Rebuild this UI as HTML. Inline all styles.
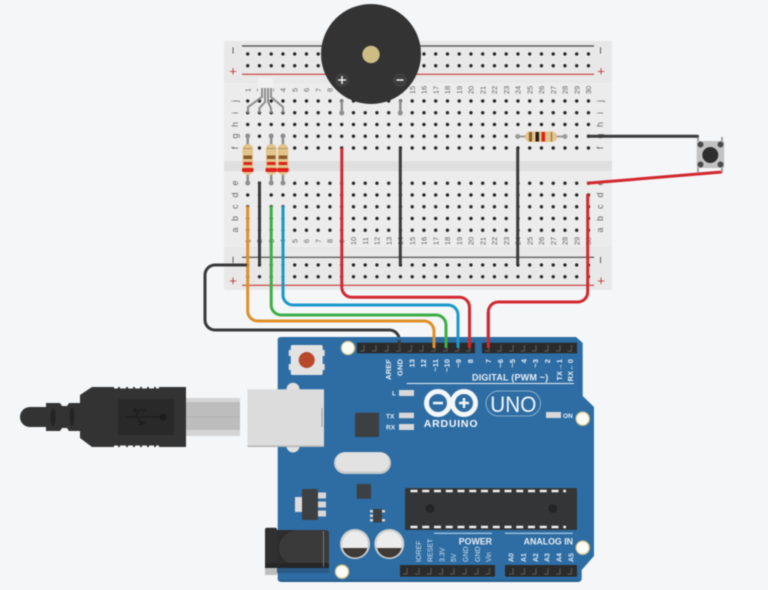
<!DOCTYPE html>
<html>
<head>
<meta charset="utf-8">
<style>
html,body{margin:0;padding:0;background:#f4f6f8;width:768px;height:590px;overflow:hidden}
svg{display:block;filter:blur(.5px)}
text{font-family:"Liberation Sans",sans-serif}
.n text{font-size:7.5px;fill:#666;text-anchor:middle}
.l text{font-size:9px;fill:#666;text-anchor:middle}
.w{fill:none;stroke-width:3;stroke-linecap:butt;stroke-linejoin:round}
.p text{font-size:7.5px;fill:#e8eef4;text-anchor:end;font-weight:bold;letter-spacing:.1px}
.q text{font-size:7px;fill:#d5e2ee;text-anchor:start}
.leg{stroke:#8e8e8e;stroke-width:2;fill:none}
</style>
</head>
<body>
<svg width="768" height="590" viewBox="0 0 768 590" xmlns="http://www.w3.org/2000/svg">
<defs>
<pattern id="h" patternUnits="userSpaceOnUse" x="241.825" y="95.125" width="11.75" height="11.75">
<circle cx="5.875" cy="5.875" r="2.600" fill="#f0f0f0"/>
<circle cx="5.875" cy="5.875" r="1.700" fill="#222"/>
</pattern>
</defs>
<rect width="768" height="590" fill="#f4f6f8"/>

<!-- breadboard -->
<rect x="224" y="41" width="388" height="249" rx="2" fill="#e8e8e8"/>
<rect x="224" y="83" width="388" height="164" fill="#ececec"/>
<rect x="224" y="161" width="388" height="10" fill="#dfdfdf"/>
<rect x="241.825" y="48.125" width="352.5" height="23.5" fill="url(#h)"/>
<rect x="241.825" y="95.125" width="352.5" height="58.75" fill="url(#h)"/>
<rect x="241.825" y="177.375" width="352.5" height="58.75" fill="url(#h)"/>
<g transform="translate(0,-.5)"><rect x="241.825" y="259.625" width="352.5" height="23.5" fill="url(#h)"/></g>
<path d="M242 46H594M242 257.3H594" stroke="#444" stroke-width="1.2"/>
<path d="M242 74.3H594M242 285.3H594" stroke="#c23a3a" stroke-width="1.2"/>
<g text-anchor="middle" font-family="Liberation Sans">
<text transform="translate(237.500,50.500) rotate(-90)" fill="#555" font-size="13">−</text>
<text transform="translate(605.200,50.500) rotate(-90)" fill="#555" font-size="13">−</text>
<text x="233" y="75.500" fill="#c23a3a" font-size="13">+</text>
<text x="601" y="75.500" fill="#c23a3a" font-size="13">+</text>
<text transform="translate(237.500,260) rotate(-90)" fill="#555" font-size="13">−</text>
<text transform="translate(605.200,260) rotate(-90)" fill="#555" font-size="13">−</text>
<text x="233" y="285" fill="#c23a3a" font-size="13">+</text>
<text x="601" y="285" fill="#c23a3a" font-size="13">+</text>
</g>
<g class="n">
<text transform="translate(250.5,90) rotate(-90)">1</text><text transform="translate(262.2,90) rotate(-90)">2</text><text transform="translate(274,90) rotate(-90)">3</text><text transform="translate(285.7,90) rotate(-90)">4</text><text transform="translate(297.5,90) rotate(-90)">5</text><text transform="translate(309.2,90) rotate(-90)">6</text><text transform="translate(321,90) rotate(-90)">7</text><text transform="translate(332.7,90) rotate(-90)">8</text><text transform="translate(344.5,90) rotate(-90)">9</text><text transform="translate(356.2,90) rotate(-90)">10</text><text transform="translate(368,90) rotate(-90)">11</text><text transform="translate(379.7,90) rotate(-90)">12</text><text transform="translate(391.5,90) rotate(-90)">13</text><text transform="translate(403.2,90) rotate(-90)">14</text><text transform="translate(415,90) rotate(-90)">15</text><text transform="translate(426.7,90) rotate(-90)">16</text><text transform="translate(438.5,90) rotate(-90)">17</text><text transform="translate(450.2,90) rotate(-90)">18</text><text transform="translate(462,90) rotate(-90)">19</text><text transform="translate(473.7,90) rotate(-90)">20</text><text transform="translate(485.5,90) rotate(-90)">21</text><text transform="translate(497.2,90) rotate(-90)">22</text><text transform="translate(509,90) rotate(-90)">23</text><text transform="translate(520.7,90) rotate(-90)">24</text><text transform="translate(532.5,90) rotate(-90)">25</text><text transform="translate(544.2,90) rotate(-90)">26</text><text transform="translate(556,90) rotate(-90)">27</text><text transform="translate(567.7,90) rotate(-90)">28</text><text transform="translate(579.5,90) rotate(-90)">29</text><text transform="translate(591.2,90) rotate(-90)">30</text>
<text transform="translate(250.5,241) rotate(-90)">1</text><text transform="translate(262.2,241) rotate(-90)">2</text><text transform="translate(274,241) rotate(-90)">3</text><text transform="translate(285.7,241) rotate(-90)">4</text><text transform="translate(297.5,241) rotate(-90)">5</text><text transform="translate(309.2,241) rotate(-90)">6</text><text transform="translate(321,241) rotate(-90)">7</text><text transform="translate(332.7,241) rotate(-90)">8</text><text transform="translate(344.5,241) rotate(-90)">9</text><text transform="translate(356.2,241) rotate(-90)">10</text><text transform="translate(368,241) rotate(-90)">11</text><text transform="translate(379.7,241) rotate(-90)">12</text><text transform="translate(391.5,241) rotate(-90)">13</text><text transform="translate(403.2,241) rotate(-90)">14</text><text transform="translate(415,241) rotate(-90)">15</text><text transform="translate(426.7,241) rotate(-90)">16</text><text transform="translate(438.5,241) rotate(-90)">17</text><text transform="translate(450.2,241) rotate(-90)">18</text><text transform="translate(462,241) rotate(-90)">19</text><text transform="translate(473.7,241) rotate(-90)">20</text><text transform="translate(485.5,241) rotate(-90)">21</text><text transform="translate(497.2,241) rotate(-90)">22</text><text transform="translate(509,241) rotate(-90)">23</text><text transform="translate(520.7,241) rotate(-90)">24</text><text transform="translate(532.5,241) rotate(-90)">25</text><text transform="translate(544.2,241) rotate(-90)">26</text><text transform="translate(556,241) rotate(-90)">27</text><text transform="translate(567.7,241) rotate(-90)">28</text><text transform="translate(579.5,241) rotate(-90)">29</text><text transform="translate(591.2,241) rotate(-90)">30</text>
</g>
<g class="l">
<text transform="translate(238,101) rotate(-90)">j</text><text transform="translate(238,113) rotate(-90)">i</text><text transform="translate(238,124.5) rotate(-90)">h</text><text transform="translate(238,136) rotate(-90)">g</text><text transform="translate(238,148) rotate(-90)">f</text><text transform="translate(238,183) rotate(-90)">e</text><text transform="translate(238,195) rotate(-90)">d</text><text transform="translate(238,206.7) rotate(-90)">c</text><text transform="translate(238,218.5) rotate(-90)">b</text><text transform="translate(238,230) rotate(-90)">a</text>
<text transform="translate(603,101) rotate(-90)">j</text><text transform="translate(603,113) rotate(-90)">i</text><text transform="translate(603,124.5) rotate(-90)">h</text><text transform="translate(603,136) rotate(-90)">g</text><text transform="translate(603,148) rotate(-90)">f</text><text transform="translate(603,183) rotate(-90)">e</text><text transform="translate(603,195) rotate(-90)">d</text><text transform="translate(603,206.7) rotate(-90)">c</text><text transform="translate(603,218.5) rotate(-90)">b</text><text transform="translate(603,230) rotate(-90)">a</text>
</g>

<!-- LED -->
<rect x="258" y="78" width="15" height="15" rx="2" fill="#f1f1f1"/>
<path class="leg" d="M262 88V97L248 107V113M265 88V102L259.500 108V113M268 88V102L271 108V113M271 88V97L283 107V113"/>

<!-- resistors vertical -->
<g id="rv">
<path d="M247.700 136V183" stroke="#8e8e8e" stroke-width="2.500"/>
<path d="M271.200 136V183M282.950 136V183" stroke="#8e8e8e" stroke-width="2.500"/>
<circle cx="247.700" cy="136" r="2.500" fill="#8e8e8e"/><circle cx="271.200" cy="136" r="2.500" fill="#8e8e8e"/><circle cx="282.950" cy="136" r="2.500" fill="#8e8e8e"/>
<circle cx="247.700" cy="183" r="2.500" fill="#8e8e8e"/><circle cx="271.200" cy="183" r="2.500" fill="#8e8e8e"/><circle cx="282.950" cy="183" r="2.500" fill="#8e8e8e"/>
<rect x="242.500" y="144" width="10.500" height="31" rx="5" fill="#e3c48a"/>
<rect x="266" y="144" width="10.500" height="31" rx="5" fill="#e3c48a"/>
<rect x="277.700" y="144" width="10.500" height="31" rx="5" fill="#e3c48a"/>
<g fill="#8b5a2b"><rect x="243.500" y="155.500" width="8.500" height="3.500"/><rect x="267" y="155.500" width="8.500" height="3.500"/><rect x="278.700" y="155.500" width="8.500" height="3.500"/></g>
<g fill="#e0201c"><rect x="243.500" y="162" width="8.500" height="3"/><rect x="267" y="162" width="8.500" height="3"/><rect x="278.700" y="162" width="8.500" height="3"/><rect x="242" y="168" width="11.500" height="4" rx="1"/><rect x="265.500" y="168" width="11.500" height="4" rx="1"/><rect x="277.200" y="168" width="11.500" height="4" rx="1"/></g>
<path d="M243 148.500H252M266.500 148.500H276M278 148.500H287.500" stroke="#7a6a45" stroke-width=".6"/>
</g>

<!-- resistor horizontal -->
<path d="M517.700 136.500H565" stroke="#9a9a9a" stroke-width="2"/>
<circle cx="517.700" cy="136.500" r="2.500" fill="#9a9a9a"/><circle cx="565" cy="136.500" r="2.500" fill="#9a9a9a"/>
<rect x="525" y="131.500" width="32" height="10.500" rx="5" fill="#e3c48a"/>
<rect x="529" y="132" width="3" height="9.500" fill="#8b5a2b"/>
<rect x="535.500" y="132" width="3.500" height="9.500" fill="#222"/>
<rect x="541.500" y="132" width="3.500" height="9.500" fill="#e0201c"/>
<rect x="551" y="132" width="1" height="9.500" fill="#7a6a45"/>

<!-- wires -->
<g class="w">
<path d="M259.500 181.500V265" stroke="#3a3a3a"/>
<path d="M400.300 148V265" stroke="#3a3a3a"/>
<path d="M517.700 148V265" stroke="#3a3a3a"/>
<path d="M247.700 206V311A10 10 0 0 0 257.700 321H424A10 10 0 0 1 434 331V350" stroke="#e08f27"/>
<path d="M271.200 206V305A10 10 0 0 0 281.200 315H436A10 10 0 0 1 446 325V350" stroke="#3dae45"/>
<path d="M283 206V295A10 10 0 0 0 293 305H448A10 10 0 0 1 458 315V350" stroke="#1b98cc"/>
<path d="M341.800 148V287.300A10 10 0 0 0 351.800 297.300H459.500A10 10 0 0 1 469.500 307.300V350" stroke="#d2282e"/>
<path d="M587.700 194V292A10 10 0 0 1 577.700 302H498.300A10 10 0 0 0 488.300 312V348" stroke="#d2282e"/>
<path d="M247 265H215A10 10 0 0 0 205 275V320A10 10 0 0 0 215 330H389.300A10 10 0 0 1 399.300 340V350" stroke="#3a3a3a"/>
<path d="M587 136.200H697.500V138" stroke="#3a3a3a"/>
<path d="M587 183.300L722 172" stroke="#d2282e"/>
</g>

<!-- button -->
<path d="M698 137V141M722 137V141M698 168V173M722 168V173" stroke="#999" stroke-width="1.800"/>
<rect x="696.700" y="141" width="27.500" height="27" rx="1" fill="#c2c2c2"/>
<circle cx="710.300" cy="155" r="8" fill="#2e2e2e"/>
<circle cx="700.500" cy="144.500" r="3" fill="#4a4a4a"/><circle cx="720.500" cy="144.500" r="3" fill="#4a4a4a"/><circle cx="700.500" cy="164.500" r="3" fill="#4a4a4a"/><circle cx="720.500" cy="164.500" r="3" fill="#4a4a4a"/>

<!-- buzzer legs and body -->
<path d="M341.800 100V113M400.300 100V113" stroke="#8e8e8e" stroke-width="2.500"/>
<circle cx="341.800" cy="113" r="2.500" fill="#8e8e8e"/><circle cx="400.300" cy="113" r="2.500" fill="#8e8e8e"/>
<circle cx="371" cy="54" r="50" fill="#333"/>
<circle cx="371" cy="54.500" r="8.700" fill="#cdbd84"/>
<circle cx="342" cy="80" r="6" fill="#3c3c3c" stroke="#555" stroke-width=".6"/>
<circle cx="400" cy="80" r="6" fill="#3c3c3c" stroke="#555" stroke-width=".6"/>
<path d="M338 80H346M342 76V84M396.500 80H403.500" stroke="#f0f0f0" stroke-width="1.500"/>

<!-- arduino board -->
<path d="M281 337H576L582.700 343V396L594 407V556L581.700 570V578Q581.700 582 577 582H282Q277.700 582 277.700 578V340Q277.700 337 281 337Z" fill="#2d6da3"/>
<path d="M277.700 580V578Q277.700 582 282 582H577Q581.700 582 581.700 578V580Z" fill="#275f8e"/>

<!-- mounting holes -->
<g fill="#fbfbf5" stroke="#cdbd84" stroke-width="1.200">
<circle cx="348" cy="348" r="6.700"/><circle cx="582.700" cy="418.700" r="6.700"/><circle cx="342" cy="571.700" r="6.700"/><circle cx="582.700" cy="547.700" r="6.700"/>
</g>

<!-- reset -->
<rect x="288.700" y="350" width="36" height="6" fill="#dcdcdc"/><rect x="288.700" y="364" width="36" height="6" fill="#dcdcdc"/>
<rect x="290.700" y="345" width="32" height="30" rx="2" fill="#e2e2e2"/>
<circle cx="306.700" cy="360" r="8" fill="#b8492a"/>

<!-- headers -->
<rect x="357" y="342.700" width="118" height="10.600" fill="#2b2b2b"/>
<rect x="482" y="342.700" width="95" height="10.600" fill="#2b2b2b"/>
<rect x="400" y="565" width="95" height="11.700" fill="#2b2b2b"/>
<rect x="505" y="565" width="72" height="11.700" fill="#2b2b2b"/>
<path d="M364 345V351H360M376 345V351H372M388 345V351H384M400 345V351H396M411.500 345V351H407.500M423 345V351H419M435 345V351H431M447 345V351H443M458.500 345V351H454.500M470 345V351H466M489 345V351H485M501 345V351H497M513 345V351H509M524.500 345V351H520.500M536 345V351H532M548 345V351H544M560 345V351H556M571.500 345V351H567.500M407 568V574H403M419 568V574H415M431 568V574H427M442.500 568V574H438.500M454 568V574H450M466 568V574H462M478 568V574H474M489.500 568V574H485.500M513 568V574H509M524.500 568V574H520.500M536 568V574H532M548 568V574H544M560 568V574H556M571.500 568V574H567.500" stroke="#555" stroke-width="1.200" fill="none"/>

<!-- wire tips over header -->
<g class="w">
<path d="M399.300 340V348" stroke="#3a3a3a"/>
<path d="M434 331V348" stroke="#e08f27"/>
<path d="M446 325V348" stroke="#3dae45"/>
<path d="M458 315V348" stroke="#1b98cc"/>
<path d="M469.500 307.300V348" stroke="#d2282e"/>
<path d="M488.300 312V348" stroke="#d2282e"/>
</g>

<!-- top pin labels -->
<g class="p">
<text transform="translate(391,359) rotate(-90)">AREF</text><text transform="translate(402.500,359) rotate(-90)">GND</text><text transform="translate(414.500,359) rotate(-90)">13</text><text transform="translate(426,359) rotate(-90)">12</text><text transform="translate(438,359) rotate(-90)">~11</text><text transform="translate(449.500,359) rotate(-90)">~10</text><text transform="translate(461,359) rotate(-90)">~9</text><text transform="translate(473,359) rotate(-90)">8</text><text transform="translate(491,359) rotate(-90)">7</text><text transform="translate(503,359) rotate(-90)">~6</text><text transform="translate(515,359) rotate(-90)">~5</text><text transform="translate(526.500,359) rotate(-90)">4</text><text transform="translate(538,359) rotate(-90)">~3</text><text transform="translate(550,359) rotate(-90)">2</text><text transform="translate(562,359) rotate(-90)">TX→1</text><text transform="translate(573,359) rotate(-90)">RX←0</text>
</g>
<text x="472" y="380.500" font-size="9" font-weight="bold" fill="#e8eef4" letter-spacing=".2">DIGITAL (PWM ~)</text>
<path d="M406.700 383.500H574" stroke="#e8eef4" stroke-width="1"/>

<!-- LEDs -->
<g fill="#d8d8d8"><rect x="399" y="390" width="15" height="6"/><rect x="399" y="412.700" width="15" height="5.500"/><rect x="399" y="424" width="15" height="6"/><rect x="546" y="412" width="15" height="6"/></g>
<g font-size="6.500" font-weight="bold" fill="#e8eef4">
<text x="392" y="395.500">L</text><text x="386" y="418.500">TX</text><text x="386" y="429.500">RX</text><text x="563" y="418">ON</text>
</g>

<!-- chip -->
<rect x="355" y="412.700" width="24" height="24.300" rx="1" fill="#3c4043"/>

<!-- logo -->
<g fill="none" stroke="#f4f6f8" stroke-width="5">
<circle cx="438" cy="403" r="11.500"/><circle cx="464" cy="403" r="11.500"/>
</g>
<rect x="433" y="401.800" width="10" height="2.500" fill="#f4f6f8"/>
<path d="M459 403H469M464 398V408" stroke="#f4f6f8" stroke-width="2.500"/>
<text x="451" y="427" font-size="10.500" font-weight="bold" fill="#f4f6f8" text-anchor="middle" letter-spacing=".8">ARDUINO</text>
<rect x="486" y="391" width="54.500" height="25" rx="12.500" fill="none" stroke="#d8e4ee" stroke-width=".8" stroke-dasharray="1.500 .7"/>
<text x="513.300" y="412" font-size="22" fill="#f4f6f8" text-anchor="middle" textLength="46" lengthAdjust="spacingAndGlyphs" style="font-weight:normal">UNO</text>

<!-- crystal -->
<rect x="334" y="452" width="57" height="22" rx="11" fill="#c7c9cb"/>
<rect x="335.500" y="452.500" width="54" height="19" rx="9.500" fill="#e2e2e2"/>

<!-- small parts -->
<rect x="356.700" y="484" width="14.300" height="14.700" rx="1" fill="#3c4043"/>
<rect x="295" y="497" width="8" height="15" fill="#dcdcdc"/>
<g fill="#d8d8d8"><rect x="317" y="492.500" width="9" height="6"/><rect x="317" y="501.500" width="9" height="6"/><rect x="317" y="510.500" width="9" height="6"/></g>
<rect x="302" y="489" width="16" height="31" rx="1" fill="#3c4043"/>
<g fill="#d8d8d8"><rect x="370" y="510" width="5" height="2.500"/><rect x="370" y="514.500" width="5" height="2.500"/><rect x="370" y="519" width="5" height="2.500"/><rect x="380" y="510" width="5" height="2.500"/><rect x="380" y="519" width="5" height="2.500"/></g>
<rect x="373" y="509" width="9" height="13.500" fill="#3c4043"/>

<!-- jack -->
<rect x="265" y="565" width="64" height="8" fill="#2a5a85"/>
<rect x="265" y="565" width="12" height="10" fill="#bdbdbd"/>
<rect x="277" y="530" width="52" height="38" rx="3" fill="#3a3a3a"/>
<path d="M277 530H296Q279 535 279 548Q279 561 296 566H277Z" fill="#2d2d2d"/>
<rect x="265" y="527.700" width="12" height="40" rx="2" fill="#303030"/>
<rect x="265" y="563" width="64" height="5" fill="#262626"/>
<path d="M323.500 531V567" stroke="#8a8a8a" stroke-width=".8"/>

<!-- caps -->
<g>
<circle cx="355" cy="544" r="15" fill="#d0d0d0"/><circle cx="355" cy="544" r="12.700" fill="#ececec"/>
<path d="M342.700 548H367.300A12.700 12.700 0 0 1 342.700 548Z" fill="#3f3a36"/>
<circle cx="389.300" cy="544" r="15" fill="#d0d0d0"/><circle cx="389.300" cy="544" r="12.700" fill="#ececec"/>
<path d="M377 548H401.600A12.700 12.700 0 0 1 377 548Z" fill="#3f3a36"/>
</g>

<!-- IC -->
<rect x="405" y="488" width="172" height="42" rx="1" fill="#333537"/>
<path d="M410.500 491H566M410.500 527H566" stroke="#f2f2f2" stroke-width="2.500" stroke-dasharray="7 4.750"/>
<circle cx="430" cy="508.500" r="4.500" fill="#232527"/><circle cx="553" cy="508.500" r="4.500" fill="#232527"/>

<!-- bottom labels -->
<path d="M434 533.300H492M505 533.300H573" stroke="#b9d0e2" stroke-width="1.200"/>
<text x="492" y="544.500" font-size="8.800" font-weight="bold" fill="#e8eef4" text-anchor="end">POWER</text>
<text x="573" y="544.500" font-size="8.800" font-weight="bold" fill="#e8eef4" text-anchor="end">ANALOG IN</text>
<g class="q">
<text transform="translate(421,562) rotate(-90)">IOREF</text><text transform="translate(432.700,562) rotate(-90)">RESET</text><text transform="translate(444.700,562) rotate(-90)">3.3V</text><text transform="translate(456,562) rotate(-90)">5V</text><text transform="translate(468,562) rotate(-90)">GND</text><text transform="translate(480,562) rotate(-90)">GND</text><text transform="translate(491,562) rotate(-90)">Vin</text>
<text transform="translate(513.700,562) rotate(-90)" font-weight="bold">A0</text><text transform="translate(526,562) rotate(-90)" font-weight="bold">A1</text><text transform="translate(538,562) rotate(-90)" font-weight="bold">A2</text><text transform="translate(549.700,562) rotate(-90)" font-weight="bold">A3</text><text transform="translate(561.500,562) rotate(-90)" font-weight="bold">A4</text><text transform="translate(573.500,562) rotate(-90)" font-weight="bold">A5</text>
</g>

<!-- USB port -->
<rect x="286.500" y="382.700" width="13" height="13" rx="6.500" fill="#e0e0e0"/>
<rect x="286.500" y="440" width="13" height="12.500" rx="6.500" fill="#e0e0e0"/>
<rect x="247.500" y="389.300" width="76.500" height="57.700" fill="#dcdcdc"/>
<rect x="247.500" y="445.500" width="76.500" height="1.500" fill="#b5b5b5"/>
<rect x="321.500" y="408" width="1" height="19" fill="#999"/>

<!-- USB cable -->
<rect x="186" y="398" width="54" height="38" fill="#d5d5d5"/>
<rect x="186" y="402" width="54" height="28" fill="#bdbdbd"/>
<path d="M186 417H240" stroke="#adadad" stroke-width=".7"/>
<path d="M92 387H186V447H92L80 438V395Z" fill="#333"/>
<path d="M114 387H118M120 387H126M128 387H133M135 387H140M142 387H147M149 387H154M156 387H159M114 447H118M120 447H126M128 447H133M135 447H140M142 447H147M149 447H154M156 447H159" stroke="#f4f6f8" stroke-width="3"/>
<path d="M46 403H60L62 406H67L69 403H80V431H69L67 428H62L60 431H46Z" fill="#333"/>
<path d="M46 407H30A10 10 0 0 0 30 427H46Z" fill="#333"/>
<ellipse cx="53" cy="417" rx="2.500" ry="9" fill="#242424"/><ellipse cx="72" cy="417" rx="2.500" ry="9" fill="#242424"/>
<rect x="118" y="399" width="56" height="36" fill="#292929"/>
<path d="M126 417H163M135 417L139 410H146M137 417L141 423H147" stroke="#1c1c1c" stroke-width="1.300" fill="none"/>
<circle cx="163" cy="417" r="3.500" fill="#1c1c1c"/><circle cx="135" cy="410" r="2" fill="#1c1c1c"/><circle cx="141" cy="423" r="2" fill="#1c1c1c"/>
</svg>
</body>
</html>
